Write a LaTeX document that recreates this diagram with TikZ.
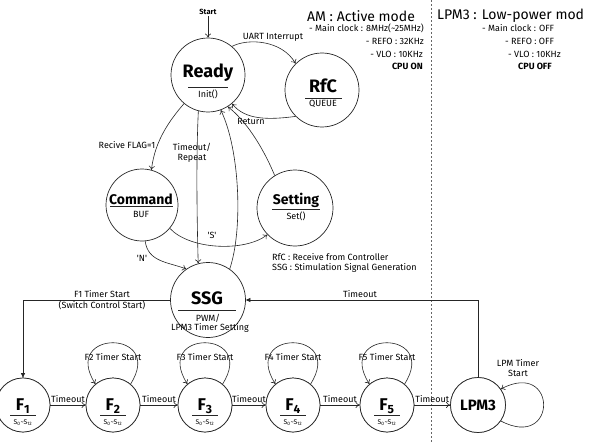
\documentclass[tikz,border=0pt]{standalone}
\usepackage{fontspec}
\setmainfont{Fira Sans}
\usetikzlibrary{arrows.meta}
\begin{document}
\begin{tikzpicture}[x=1pt,y=-1pt,
  st/.style={circle,draw=black!85,line width=0.7pt,minimum size=#1,inner sep=0pt,fill=white},
  big/.style={font=\bfseries\fontsize{18}{18}\selectfont,inner sep=0pt},
  mid/.style={font=\bfseries\fontsize{14}{14}\selectfont,inner sep=0pt},
  fbig/.style={font=\bfseries\fontsize{17}{17}\selectfont,inner sep=0pt},
  sm/.style={font=\fontsize{9}{10}\selectfont,inner sep=1pt},
  tiny/.style={font=\fontsize{6.8}{7}\selectfont,inner sep=0pt},
  ul/.style={line width=0.6pt,black!85},
  arr/.style={draw=black!85,line width=0.6pt,-{To[length=4pt,width=6pt]}},
  arrF/.style={draw=black!85,line width=0.6pt,-{Triangle[length=4.5pt,width=4pt]}},
  head/.style={font=\fontsize{14}{14}\selectfont,inner sep=0pt}
]
\useasboundingbox (0,0) rectangle (592,444);

% dashed separator
\draw[dashed,dash pattern=on 2pt off 2pt,black!60,line width=0.7pt] (431,0) -- (431,444);

% headers
\node[head] (am) at (361,16) {AM : Active mode};
\node[head,anchor=west] (lpmh) at (437,16) {LPM3 : Low-power mod};
\node[sm,anchor=east] (am1) at (425,28) {- Main clock : 8MHz(\textasciitilde 25MHz)};
\node[sm,anchor=east] (am2) at (425,41) {- REFO : 32KHz};
\node[sm,anchor=east] (am3) at (424,54) {- VLO : 10KHz};
\node[sm,anchor=east,font=\bfseries\fontsize{9}{10}\selectfont] (am4) at (424,66) {CPU ON};
\node[sm,anchor=west] (lp1) at (481,28) {- Main clock : OFF};
\node[sm,anchor=west] (lp2) at (504,41) {- REFO : OFF};
\node[sm,anchor=west] (lp3) at (507,54) {- VLO : 10KHz};
\node[sm,anchor=west,font=\bfseries\fontsize{9}{10}\selectfont] (lp4) at (517,66) {CPU OFF};

% legend
\node[sm,anchor=west] (leg1) at (271,257) {RfC : Receive from Controller};
\node[sm,anchor=west] (leg2) at (271,268) {SSG : Stimulation Signal Generation};

% self loops (drawn first)
\foreach \n/\x in {2/113,3/205,4/293,5/387}{
  \node[st=54pt] (f\n) at (\x,405) {};
}
\node[st=54pt] (f1) at (23,405) {};
\foreach \n/\x in {2/113,3/205,4/293,5/387}{
  \draw[arr] (f\n.50) .. controls +(35,-55) and +(-35,-55) .. (f\n.130);
  \node[sm] (lf\n) at (\x,357) {F\n\ Timer Start};
}
\node[st=55pt] (lpm3) at (478,405) {};
\draw[arr] (lpm3.-35) .. controls +(57,30) and +(57,-30) .. (lpm3.35);
\node[sm,align=center] (llpm) at (518,368) {LPM Timer\\Start};

% redraw F circles on top
\foreach \n/\x in {1/23,2/113,3/205,4/293,5/387}{
  \node[st=54pt] (g\n) at (\x,405) {};
  \node[fbig] (ft\n) at (\x,406) {F\textsubscript{\n}};
  \draw[ul] (\x-13,415) -- (\x+13,415);
  \node[tiny] (fs\n) at (\x,423) {S\textsubscript{0}\textasciitilde S\textsubscript{12}};
}
\node[st=55pt] (lpm3b) at (478,405) {};
\node[font=\bfseries\fontsize{15}{15}\selectfont,inner sep=0pt] (lpmt) at (478,405) {LPM3};

% main states
\node[st=74pt] (ready) at (208,75) {};
\node[big] (readyT) at (208,73) {Ready};
\draw[ul] (188,87) -- (228,87);
\node[sm] (readyS) at (208,94) {Init()};

\node[st=74pt] (rfc) at (322,90) {};
\node[big] (rfcT) at (323,86) {RfC};
\draw[ul] (305,98) -- (342,98);
\node[sm] (rfcS) at (323,104) {QUEUE};

\node[st=72pt] (command) at (142,205) {};
\node[mid] (commandT) at (141,199) {Command};
\draw[ul] (110,206) -- (173,206);
\node[sm] (commandS) at (141,214) {BUF};

\node[st=76pt] (setting) at (295,208) {};
\node[mid] (settingT) at (296,200) {Setting};
\draw[ul] (272,209) -- (320,209);
\node[sm] (settingS) at (296,216) {Set()};

\node[st=75pt] (ssg) at (208,300) {};
\node[big] (ssgT) at (207,298) {SSG};
\draw[ul] (178,310) -- (236,310);
\node[sm] (ssgS1) at (208,318) {PWM/};
\node[sm] (ssgS2) at (210,328) {LPM3 Timer Setting};

% start
\node[font=\bfseries\fontsize{7.5}{8}\selectfont,inner sep=1pt] (start) at (208,12) {Start};
\draw[arr] (start) -- (ready);

% transitions
\draw[arr] (ready.50) .. controls (248,38) and (282,40) .. (rfc.135);
\node[sm] (luart) at (273,37) {UART Interrupt};

\draw[arr] (rfc.225) .. controls (268,120) and (245,120) .. (ready.-50);
\node[sm] (lret) at (251,121) {Return};

\draw[arr] (ready.-130) .. controls (170,120) and (155,140) .. (command.75);
\node[sm] (lflag) at (127,145) {Recive FLAG=1};

\draw[arr] (ready.-105) .. controls (196,160) and (197,220) .. (ssg.105);
\node[sm,align=center] (ltr) at (192,153) {Timeout/\\Repeat};

\draw[arr] (ssg.55) .. controls (243,230) and (240,150) .. (ready.-70);
\draw[arr] (setting.122) .. controls (262,145) and (245,120) .. (ready.-58);

\draw[arr] (command.-40) .. controls (190,250) and (245,252) .. (setting.-136);
\node[sm] (ls) at (212,235) {\textquotesingle S\textquotesingle};

\draw[arr] (command.-85) .. controls (148,262) and (168,262) .. (ssg.125);
\node[sm] (ln) at (142,258) {\textquotesingle N\textquotesingle};

\draw[arrF] (ssg.west) -| (f1.north);
\node[sm] (lf1a) at (102,294) {F1 Timer Start};
\node[sm] (lf1b) at (102,305) {(Switch Control Start)};

\draw[arrF] (lpm3.north) |- (ssg.east);
\node[sm] (lto) at (360,294) {Timeout};

\draw[arr] (f1) -- (f2) node[sm,midway,above=1pt] (t1) {Timeout};
\draw[arr] (f2) -- (f3) node[sm,midway,above=1pt] (t2) {Timeout};
\draw[arr] (f3) -- (f4) node[sm,midway,above=1pt] (t3) {Timeout};
\draw[arr] (f4) -- (f5) node[sm,midway,above=1pt] (t4) {Timeout};
\draw[arr] (f5) -- (lpm3) node[sm,midway,above=1pt] (t5) {Timeout};
\end{tikzpicture}
\end{document}
